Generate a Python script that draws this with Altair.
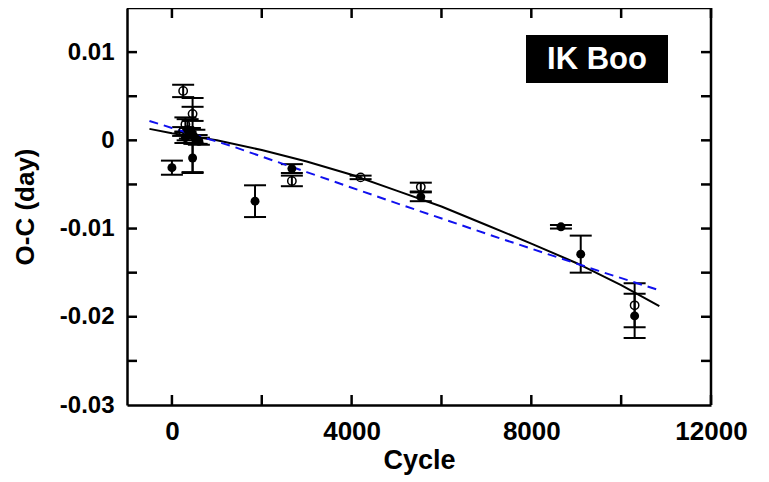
import altair as alt
import pandas as pd

# ---- data ----
pt_cycle = [0, 250, 460, 460, 460, 300, 350, 400, 500, 550, 600, 300, 250,
            1850, 2670, 2670, 4200, 5540, 5540, 8660, 9100, 10300, 10300]
pt_oc = [-0.0031, 0.0056, 0.0030, -0.0020, 0.0006, 0.0018, 0.0012, 0.0008, 0.0004, 0.0001, -0.0001, 0.0003, 0.0010,
         -0.0069, -0.0032, -0.0046, -0.0042, -0.0053, -0.0064, -0.0098, -0.0129, -0.0187, -0.0199]
pt_err = [0.0008, 0.0007, 0.0008, 0.0017, 0.0042, 0.0008, 0.0012, 0.0006, 0.0008, 0.0005, 0.0004, 0.0006, 0.0005,
          0.0018, 0.0005, 0.0006, 0.0002, 0.0005, 0.0005, 0.0002, 0.0021, 0.0025, 0.0025]
pt_kind = ["filled", "open", "open", "filled", "filled", "open", "filled", "filled", "filled", "filled", "filled", "filled", "open",
           "filled", "filled", "open", "open", "open", "filled", "filled", "filled", "open", "filled"]

fit_cycle = [-500, 0, 1000, 2000, 3000, 4000, 5000, 6000, 7000, 8000, 9000, 10000, 10850]
fit_oc = [0.0013, 0.0008, 0.0000, -0.0011, -0.0024, -0.0039, -0.0057, -0.0075, -0.0096, -0.0117, -0.0139, -0.0164, -0.0188]

lin_cycle = [-500, 0, 1300, 3000, 5100, 7300, 9500, 10850]
lin_oc = [0.0022, 0.0014, -0.0006, -0.0036, -0.0073, -0.0111, -0.0148, -0.0170]

x_labels = [0, 4000, 8000, 12000]
x_tick_vals = [0, 2000, 4000, 6000, 8000, 10000, 12000]
y_labels = [-0.03, -0.02, -0.01, 0, 0.01]
y_tick_vals = [-0.025, -0.02, -0.015, -0.01, -0.005, 0, 0.005, 0.01]

W, H = 584, 397
FONT = "Liberation Sans"

pts = pd.DataFrame({"cycle": pt_cycle, "oc": pt_oc, "err": pt_err, "kind": pt_kind})
fit = pd.DataFrame({"cycle": fit_cycle, "oc": fit_oc})
lin = pd.DataFrame({"cycle": lin_cycle, "oc": lin_oc})
xt = pd.DataFrame({"v": x_tick_vals})
yt = pd.DataFrame({"v": y_tick_vals})

xs = alt.Scale(domain=[-1000, 12000], nice=False, zero=False)
ys = alt.Scale(domain=[-0.03, 0.015], nice=False, zero=False)

X = alt.X("cycle:Q", scale=xs, title="Cycle",
          axis=alt.Axis(values=x_labels, ticks=False, grid=False,
                        domain=True, domainColor="black", domainWidth=2.5,
                        labelExpr="format(datum.value, 'd')",
                        labelFont=FONT, labelFontSize=26, labelFontWeight="bold", labelColor="black",
                        labelPadding=13, labelFlush=False,
                        titleFont=FONT, titleFontSize=27, titleFontWeight="bold", titleColor="black",
                        titlePadding=3))
Y = alt.Y("oc:Q", scale=ys, title="O-C (day)",
          axis=alt.Axis(values=y_labels, ticks=False, grid=False,
                        domain=True, domainColor="black", domainWidth=2.5,
                        labelExpr="datum.value == 0 ? '0' : (datum.value < 0 ? '-' : '') + format(abs(datum.value), '.2f')",
                        labelFont=FONT, labelFontSize=24, labelFontWeight="bold", labelColor="black",
                        labelPadding=13, labelFlush=False,
                        titleFont=FONT, titleFontSize=26, titleFontWeight="bold", titleColor="black",
                        titlePadding=21))

base = alt.Chart(pts).transform_calculate(lo="datum.oc - datum.err", hi="datum.oc + datum.err")

bars = base.mark_rule(color="black", strokeWidth=2).encode(
    x=X, y=alt.Y("lo:Q", scale=ys), y2="hi:Q")
cap_lo = base.mark_tick(orient="horizontal", color="black", size=22, thickness=2, opacity=1).encode(
    x=alt.X("cycle:Q", scale=xs), y=alt.Y("lo:Q", scale=ys))
cap_hi = base.mark_tick(orient="horizontal", color="black", size=22, thickness=2, opacity=1).encode(
    x=alt.X("cycle:Q", scale=xs), y=alt.Y("hi:Q", scale=ys))

filled = alt.Chart(pts).transform_filter("datum.kind == 'filled'").mark_point(
    filled=True, color="black", size=80, opacity=1).encode(x=alt.X("cycle:Q", scale=xs), y=Y)
opened = alt.Chart(pts).transform_filter("datum.kind == 'open'").mark_point(
    filled=False, color="black", size=70, strokeWidth=1.5, opacity=1).encode(
    x=alt.X("cycle:Q", scale=xs), y=alt.Y("oc:Q", scale=ys))

fit_line = alt.Chart(fit).mark_line(color="black", strokeWidth=2).encode(
    x=alt.X("cycle:Q", scale=xs), y=alt.Y("oc:Q", scale=ys))
lin_line = alt.Chart(lin).mark_line(color="#1010ee", strokeWidth=2, strokeDash=[9, 6]).encode(
    x=alt.X("cycle:Q", scale=xs), y=alt.Y("oc:Q", scale=ys))

tb = alt.Chart(xt).mark_rule(color="black", strokeWidth=2.5).encode(
    x=alt.X("v:Q", scale=xs), y=alt.value(H), y2=alt.value(H - 10))
tt = alt.Chart(xt).mark_rule(color="black", strokeWidth=2.5).encode(
    x=alt.X("v:Q", scale=xs), y=alt.value(0), y2=alt.value(10))
tl = alt.Chart(yt).mark_rule(color="black", strokeWidth=2.5).encode(
    y=alt.Y("v:Q", scale=ys), x=alt.value(0), x2=alt.value(10))
tr = alt.Chart(yt).mark_rule(color="black", strokeWidth=2.5).encode(
    y=alt.Y("v:Q", scale=ys), x=alt.value(W), x2=alt.value(W - 10))

top_edge = alt.Chart(pd.DataFrame({"t": ["top"]})).mark_rule(color="black", strokeWidth=2.5).encode(
    x=alt.value(0), x2=alt.value(W), y=alt.value(0))
right_edge = alt.Chart(pd.DataFrame({"t": ["right"]})).mark_rule(color="black", strokeWidth=2.5).encode(
    x=alt.value(W), y=alt.value(0), y2=alt.value(H))

box = alt.Chart(pd.DataFrame({"t": ["IK Boo"]})).mark_rect(color="black").encode(
    x=alt.value(399), x2=alt.value(541), y=alt.value(27), y2=alt.value(75))
label = alt.Chart(pd.DataFrame({"t": ["IK Boo"]})).mark_text(
    color="white", font=FONT, fontSize=31, fontWeight="bold", align="center", baseline="middle").encode(
    text="t:N", x=alt.value(470), y=alt.value(52))

chart = alt.layer(bars, cap_lo, cap_hi, fit_line, lin_line, filled, opened,
                  tb, tt, tl, tr, top_edge, right_edge, box, label).properties(
    width=W, height=H, autosize=alt.AutoSizeParams(type="none"),
    padding={"left": 119, "top": 0, "right": 40, "bottom": 70}
).configure(background="white").configure_view(stroke=None)

chart.save("out.html", embed_options={"renderer": "svg", "actions": False})
